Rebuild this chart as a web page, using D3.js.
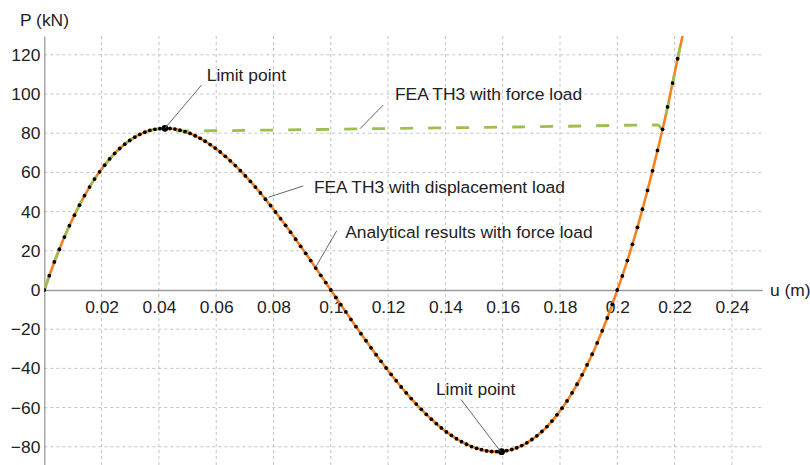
<!DOCTYPE html>
<html>
<head>
<meta charset="utf-8">
<script src="https://cdn.jsdelivr.net/npm/d3@7"></script>
<style>
  body { margin: 0; background: #fff; }
  svg { display: block; }
</style>
</head>
<body>
<script>
// load-displacement data
// FEA TH3 with displacement load (black dots), u in m, P in kN
const uDisp = [0, 0.00175, 0.00351, 0.00526, 0.00702, 0.00877, 0.01053, 0.01228, 0.01404, 0.01579,
  0.01754, 0.0193, 0.02105, 0.02281, 0.02456, 0.02632, 0.02807, 0.02982, 0.03158, 0.03333,
  0.03509, 0.03684, 0.0386, 0.04035, 0.04211, 0.04386, 0.04561, 0.04737, 0.04912, 0.05088,
  0.05263, 0.05439, 0.05614, 0.05789, 0.05965, 0.0614, 0.06316, 0.06491, 0.06667, 0.06842,
  0.07018, 0.07193, 0.07368, 0.07544, 0.07719, 0.07895, 0.0807, 0.08246, 0.08421, 0.08596,
  0.08772, 0.08947, 0.09123, 0.09298, 0.09474, 0.09649, 0.09825, 0.1, 0.10175, 0.10351,
  0.10526, 0.10702, 0.10877, 0.11053, 0.11228, 0.11404, 0.11579, 0.11754, 0.1193, 0.12105,
  0.12281, 0.12456, 0.12632, 0.12807, 0.12982, 0.13158, 0.13333, 0.13509, 0.13684, 0.1386,
  0.14035, 0.14211, 0.14386, 0.14561, 0.14737, 0.14912, 0.15088, 0.15263, 0.15439, 0.15614,
  0.15789, 0.15965, 0.1614, 0.16316, 0.16491, 0.16667, 0.16842, 0.17018, 0.17193, 0.17368,
  0.17544, 0.17719, 0.17895, 0.1807, 0.18246, 0.18421, 0.18596, 0.18772, 0.18947, 0.19123,
  0.19298, 0.19474, 0.19649, 0.19825, 0.2, 0.20175, 0.20351, 0.20526, 0.20702, 0.20877,
  0.21053, 0.21228, 0.21404, 0.21579, 0.21754, 0.2193, 0.22105];
const pDisp = [0, 7.3, 14.3, 20.8, 27.0, 32.8, 38.2, 43.3, 48.1, 52.5,
  56.6, 60.3, 63.7, 66.9, 69.7, 72.2, 74.4, 76.3, 78.0, 79.4,
  80.5, 81.4, 82.0, 82.3, 82.5, 82.4, 82.1, 81.5, 80.8, 79.9,
  78.7, 77.4, 75.9, 74.2, 72.4, 70.4, 68.2, 65.9, 63.5, 60.9,
  58.2, 55.4, 52.5, 49.5, 46.3, 43.1, 39.8, 36.4, 33.0, 29.5,
  25.9, 22.3, 18.7, 15.0, 11.2, 7.5, 3.8, 0, -3.8, -7.5,
  -11.2, -15.0, -18.7, -22.3, -25.9, -29.5, -33.0, -36.4, -39.8, -43.1,
  -46.3, -49.5, -52.5, -55.4, -58.2, -60.9, -63.5, -65.9, -68.2, -70.4,
  -72.4, -74.2, -75.9, -77.4, -78.7, -79.9, -80.8, -81.5, -82.1, -82.4,
  -82.5, -82.3, -82.0, -81.4, -80.5, -79.4, -78.0, -76.3, -74.4, -72.2,
  -69.7, -66.9, -63.7, -60.3, -56.6, -52.5, -48.1, -43.3, -38.2, -32.8,
  -27.0, -20.8, -14.3, -7.3, 0, 7.2, 15.0, 23.3, 32.0, 41.2,
  50.8, 60.8, 71.2, 82.0, 93.4, 105.6, 118.0];

// analytical curve runs on past the last FEA point (clipped at the top)
const anaEndU = [0.2231];
const anaEndP = [132];

// FEA TH3 with force load: snap-through plateau after the first limit point
const plateauU = [0.0455, 0.06, 0.09, 0.12, 0.15, 0.18, 0.2142];
const plateauP = [81.2, 81.3, 81.8, 82.4, 82.9, 83.5, 84.2];

// limit points
const limitU = [0.0421, 0.1596];
const limitP = [82.5, -82.5];

// ticks
const xTicks = [0.02, 0.04, 0.06, 0.08, 0.1, 0.12, 0.14, 0.16, 0.18, 0.2, 0.22, 0.24];
const yTicks = [-80, -60, -40, -20, 0, 20, 40, 60, 80, 100, 120];

// annotations: text anchor + leader line, in data units
const notes = [
  {text: 'Limit point', u: 0.0567, p: 106.8, from: [0.0549, 104.6], to: [0.0421, 82.5]},
  {text: 'FEA TH3 with force load', u: 0.1224, p: 96.9, from: [0.1183, 94.4], to: [0.1102, 82.3]},
  {text: 'FEA TH3 with displacement load', u: 0.0941, p: 49.6, from: [0.0904, 53.1], to: [0.0782, 47.3]},
  {text: 'Analytical results with force load', u: 0.1050, p: 26.4, from: [0.1021, 30.3], to: [0.0948, 11.9]},
  {text: 'Limit point', u: 0.1367, p: -53.6, from: [0.1454, -55.8], to: [0.1593, -82.5]}
];

// canvas
const canvWidth = 810, canvHeight = 465;
const plotLeft = 44.3, plotRight = 762, plotTop = 36, plotBottom = 465;
const fontFam = "'Liberation Sans', Arial, sans-serif";
const fontSize = '17.4px';
const orange = '#f7801f', green = '#9cbf4e';

const svg = d3.select('body').append('svg')
  .attr('width', canvWidth)
  .attr('height', canvHeight);

const x = d3.scaleLinear().domain([0, 0.2505]).range([plotLeft, plotRight]);
const y = d3.scaleLinear().domain([-89.3, 129.6]).range([plotBottom, plotTop]);

svg.append('clipPath').attr('id', 'plotClip')
  .append('rect')
  .attr('x', plotLeft).attr('y', plotTop)
  .attr('width', plotRight - plotLeft + 20).attr('height', plotBottom - plotTop);

// grid
const grid = svg.append('g').attr('stroke', '#c4c4c4').attr('stroke-width', 1).attr('stroke-dasharray', '3,3');
grid.selectAll('.vg').data(xTicks).enter().append('line')
  .attr('x1', d => x(d)).attr('x2', d => x(d))
  .attr('y1', plotTop).attr('y2', plotBottom);
grid.selectAll('.hg').data(yTicks.filter(d => d !== 0)).enter().append('line')
  .attr('x1', plotLeft).attr('x2', plotRight)
  .attr('y1', d => y(d)).attr('y2', d => y(d));

// axes (axis lines through origin, labels only)
const xAxis = svg.append('g').attr('transform', 'translate(0,' + y(0) + ')')
  .call(d3.axisBottom(x).tickValues(xTicks).tickSize(0).tickPadding(11)
    .tickFormat(d => d3.format('~g')(d)));
xAxis.select('.domain').attr('stroke', '#9a9a9a').attr('stroke-width', 1.3);
xAxis.selectAll('text').attr('font-family', fontFam).attr('font-size', fontSize).attr('fill', '#222');

const yAxis = svg.append('g').attr('transform', 'translate(' + x(0) + ',0)')
  .call(d3.axisLeft(y).tickValues(yTicks).tickSize(0).tickPadding(4)
    .tickFormat(d => d < 0 ? '\u2212' + Math.abs(d) : String(d)));
yAxis.select('.domain').attr('stroke', '#9a9a9a').attr('stroke-width', 1.3);
yAxis.selectAll('text').attr('font-family', fontFam).attr('font-size', fontSize).attr('fill', '#222');

// axis titles
svg.append('text').text('P (kN)')
  .attr('x', 20).attr('y', 26)
  .attr('font-family', fontFam).attr('font-size', fontSize).attr('fill', '#222');
svg.append('text').text('u (m)')
  .attr('x', 770).attr('y', 296)
  .attr('font-family', fontFam).attr('font-size', fontSize).attr('fill', '#222');

// curves
const plot = svg.append('g').attr('clip-path', 'url(#plotClip)');
const line = d3.line().x(d => x(d[0])).y(d => y(d[1])).curve(d3.curveMonotoneX);

const dispPts = uDisp.map((u, i) => [u, pDisp[i]]);
const anaPts = dispPts.concat(anaEndU.map((u, i) => [u, anaEndP[i]]));
const forcePts = dispPts.slice(0, 25)
  .concat(plateauU.map((u, i) => [u, plateauP[i]]))
  .concat(dispPts.slice(123))
  .concat(anaEndU.map((u, i) => [u, anaEndP[i]]));

plot.append('path').datum(anaPts)
  .attr('d', line)
  .attr('fill', 'none').attr('stroke', orange).attr('stroke-width', 2.6);

plot.append('path').datum(forcePts)
  .attr('d', line)
  .attr('fill', 'none').attr('stroke', green).attr('stroke-width', 2.8)
  .attr('stroke-dasharray', '13,15');

plot.selectAll('.dot').data(dispPts).enter().append('circle')
  .attr('cx', d => x(d[0])).attr('cy', d => y(d[1]))
  .attr('r', 1.9).attr('fill', '#000');

plot.selectAll('.lim').data(limitU).enter().append('circle')
  .attr('cx', d => x(d)).attr('cy', (d, i) => y(limitP[i]))
  .attr('r', 3.4).attr('fill', '#000');

// annotations
const ann = svg.append('g');
notes.forEach(function(n) {
  ann.append('line')
    .attr('x1', x(n.from[0])).attr('y1', y(n.from[1]))
    .attr('x2', x(n.to[0])).attr('y2', y(n.to[1]))
    .attr('stroke', '#555').attr('stroke-width', 0.9);
  ann.append('text').text(n.text)
    .attr('x', x(n.u)).attr('y', y(n.p))
    .attr('font-family', fontFam).attr('font-size', fontSize).attr('fill', '#222');
});
</script>
</body>
</html>
